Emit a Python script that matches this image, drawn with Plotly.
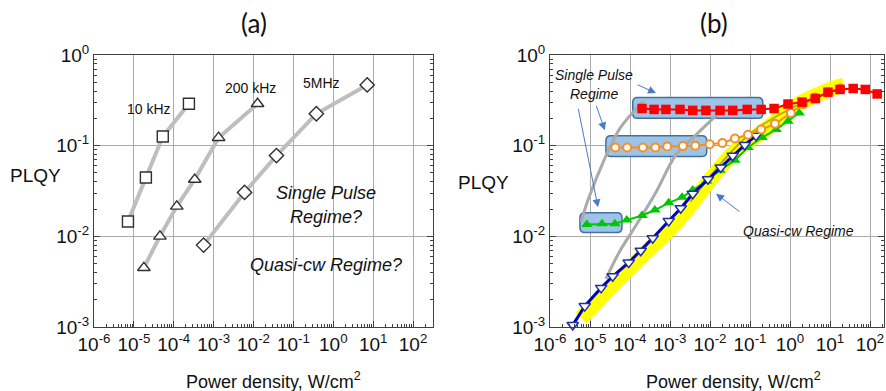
import math
import plotly.graph_objects as go

# ---------------- Panel (a) data ----------------
a10k_x = [7.1e-6, 2.0e-5, 5.3e-5, 2.4e-4]
a10k_y = [0.0146, 0.0446, 0.126, 0.29]
a200k_x = [1.78e-5, 4.5e-5, 1.19e-4, 3.35e-4, 1.33e-3, 1.26e-2]
a200k_y = [0.0045, 0.0100, 0.0214, 0.0423, 0.1225, 0.29]
a5M_x = [5.6e-4, 5.96e-3, 3.76e-2, 0.376, 7.08]
a5M_y = [0.0080, 0.0305, 0.0777, 0.225, 0.468]

# ---------------- Panel (b) data ----------------
red_x = [2.0e-4, 4.0e-4, 7.9e-4, 1.78e-3, 3.7e-3, 7.9e-3, 1.78e-2, 3.7e-2, 8.5e-2, 0.19,
         0.40, 0.89, 2.0, 4.3, 8.9, 17.8, 38, 76, 151]
red_y = [0.257, 0.251, 0.251, 0.251, 0.245, 0.245, 0.245, 0.245, 0.251, 0.251,
         0.257, 0.288, 0.302, 0.331, 0.389, 0.417, 0.427, 0.417, 0.372]
orange_x = [4.3e-5, 8.5e-5, 2.1e-4, 4.3e-4, 8.5e-4, 2.1e-3, 4.3e-3, 9.8e-3, 2.04e-2,
            4.2e-2, 8.9e-2, 0.19, 0.42, 1.05, 2.1, 4.2, 8.9, 18.2]
orange_y = [0.0955, 0.0955, 0.0955, 0.0955, 0.0977, 0.0989, 0.100, 0.1035, 0.107,
            0.120, 0.132, 0.151, 0.174, 0.229, 0.288, 0.339, 0.389, 0.427]
green_x = [8.3e-6, 2.0e-5, 4.2e-5, 8.3e-5, 2.0e-4, 4.2e-4, 9.3e-4, 2.0e-3, 3.7e-3,
           8.3e-3, 1.78e-2, 4.2e-2, 8.9e-2, 0.20, 0.45, 0.89, 1.7]
green_y = [0.0135, 0.0138, 0.0138, 0.0151, 0.0170, 0.0195, 0.0234, 0.0269, 0.0324,
           0.0407, 0.0537, 0.0692, 0.0955, 0.123, 0.151, 0.186, 0.229]
blue_x = [3.7e-6, 7.4e-6, 1.9e-5, 3.7e-5, 9.3e-5, 1.86e-4, 3.7e-4, 9.3e-4, 1.86e-3,
          3.7e-3, 8.9e-3, 1.86e-2, 3.7e-2, 7.4e-2, 0.141]
blue_y = [0.00105, 0.0017, 0.0027, 0.00363, 0.00513, 0.00692, 0.00955, 0.0148, 0.0204,
          0.0295, 0.0427, 0.0575, 0.0776, 0.102, 0.129]
band_x = [6.0e-6, 5.6e-5, 3.7e-4, 1.78e-3, 1.12e-2, 4.7e-2, 0.2, 1.5, 10, 22.4]
band_y = [1.26e-3, 3.47e-3, 7.9e-3, 0.0158, 0.0447, 0.0912, 0.141, 0.282, 0.417, 0.468]
gray1_x = [6.0e-6, 8.9e-6, 2.14e-5, 5.6e-5, 2.14e-4]
gray1_y = [0.0145, 0.0251, 0.066, 0.155, 0.309]
gray2_x = [2.5e-5, 5.6e-5, 1.32e-4, 4.5e-4, 1.41e-3, 4.5e-3, 1.86e-2]
gray2_y = [0.0034, 0.0069, 0.0126, 0.0309, 0.0794, 0.132, 0.24]
gray3_x = [3.2e-3, 0.1, 4.3]
gray3_y = [0.024, 0.135, 0.347]

# highlighted boxes (x0, x1, y0, y1)
boxes = [(1.17e-4, 0.209, 0.20, 0.339),
         (2.5e-5, 8.3e-3, 0.0759, 0.129),
         (5.6e-6, 6.3e-5, 0.011, 0.0182)]

# ticks
xt_vals = [1e-6, 1e-5, 1e-4, 1e-3, 1e-2, 1e-1, 1e0, 1e1, 1e2]
xt_text = ["10<sup>-6</sup>", "10<sup>-5</sup>", "10<sup>-4</sup>", "10<sup>-3</sup>",
           "10<sup>-2</sup>", "10<sup>-1</sup>", "10<sup>0</sup>", "10<sup>1</sup>",
           "10<sup>2</sup>"]
yt_vals = [1e-3, 1e-2, 1e-1, 1e0]
yt_text = ["10<sup>-3</sup>", "10<sup>-2</sup>", "10<sup>-1</sup>", "10<sup>0</sup>"]
x_minor = [m * 10.0 ** e for e in range(-6, 3) for m in range(2, 10)]
y_minor = [m * 10.0 ** e for e in range(-3, 0) for m in range(2, 10)]

FONT = "Liberation Sans"
fig = go.Figure()

def gray_curve(x, y, sym, xa, ya):
    fig.add_trace(go.Scatter(x=x, y=y, xaxis=xa, yaxis=ya, mode="lines+markers",
                             line=dict(color="#BEBEBE", width=4),
                             marker=dict(symbol=sym, size=11, color="white",
                                         line=dict(color="#303030", width=1.4)),
                             cliponaxis=False, showlegend=False))

gray_curve(a10k_x, a10k_y, "square", "x", "y")
gray_curve(a200k_x, a200k_y, "triangle-up", "x", "y")
gray_curve(a5M_x, a5M_y, "diamond", "x", "y")

# panel (b)
fig.add_trace(go.Scatter(x=band_x, y=band_y, xaxis="x2", yaxis="y2", mode="lines",
                         line=dict(color="#FFFF00", width=15, shape="spline"), showlegend=False))
fig.add_trace(go.Scatter(x=gray3_x, y=gray3_y, xaxis="x2", yaxis="y2", mode="lines",
                         line=dict(color="rgba(120,110,60,0.55)", width=2, shape="spline"),
                         showlegend=False))
for gx, gy in [(gray1_x, gray1_y), (gray2_x, gray2_y)]:
    fig.add_trace(go.Scatter(x=gx, y=gy, xaxis="x2", yaxis="y2", mode="lines",
                             line=dict(color="#AAAAAA", width=3, shape="spline"),
                             showlegend=False))
fig.add_trace(go.Scatter(x=green_x, y=green_y, xaxis="x2", yaxis="y2", mode="lines+markers",
                         line=dict(color="#00C800", width=2),
                         marker=dict(symbol="triangle-up", size=10, color="#00C800"),
                         showlegend=False))
fig.add_trace(go.Scatter(x=blue_x, y=blue_y, xaxis="x2", yaxis="y2", mode="lines+markers",
                         line=dict(color="#0000C8", width=3),
                         marker=dict(symbol="triangle-down", size=10, color="white",
                                     line=dict(color="#2030A0", width=1.5)),
                         cliponaxis=False, showlegend=False))
fig.add_trace(go.Scatter(x=orange_x, y=orange_y, xaxis="x2", yaxis="y2", mode="lines+markers",
                         line=dict(color="#F39026", width=2),
                         marker=dict(symbol="circle", size=8, color="white",
                                     line=dict(color="#F39026", width=2)),
                         showlegend=False))
fig.add_trace(go.Scatter(x=red_x, y=red_y, xaxis="x2", yaxis="y2", mode="lines+markers",
                         line=dict(color="#FF0000", width=2),
                         marker=dict(symbol="square", size=9.5, color="#FF0000"),
                         cliponaxis=False, showlegend=False))

def rounded_box(x0, x1, y0, y1, rx=0.12, ry=0.055):
    # rounded rectangle path in data units (log axes), corner radius given in decades
    lx0, lx1, ly0, ly1 = map(math.log10, (x0, x1, y0, y1))
    f = lambda v: "{:.12f}".format(10 ** v)
    P = lambda lx, ly: f"{f(lx)},{f(ly)}"
    return (f"M{P(lx0 + rx, ly0)} L{P(lx1 - rx, ly0)} Q{P(lx1, ly0)} {P(lx1, ly0 + ry)} "
            f"L{P(lx1, ly1 - ry)} Q{P(lx1, ly1)} {P(lx1 - rx, ly1)} "
            f"L{P(lx0 + rx, ly1)} Q{P(lx0, ly1)} {P(lx0, ly1 - ry)} "
            f"L{P(lx0, ly0 + ry)} Q{P(lx0, ly0)} {P(lx0 + rx, ly0)} Z")

shapes = []
for (x0, x1, y0, y1) in boxes:
    shapes.append(dict(type="path", xref="x2", yref="y2", path=rounded_box(x0, x1, y0, y1),
                       fillcolor="#9DC3E6", line=dict(color="#41719C", width=1.5),
                       layer="between"))

def xaxis(domain, rng, anchor):
    return dict(type="log", domain=domain, range=rng, anchor=anchor, automargin=False,
                showline=True, linecolor="#404040", linewidth=1, mirror=True,
                ticks="inside", ticklen=6, tickcolor="#404040",
                tickmode="array", tickvals=xt_vals, ticktext=xt_text,
                tickfont=dict(family=FONT, size=19, color="#111111"),
                showgrid=True, gridcolor="#ABABAB", gridwidth=1, zeroline=False,
                minor=dict(ticks="inside", ticklen=3, tickcolor="#404040",
                           tickmode="array", tickvals=x_minor, showgrid=False))

def yaxis(domain, anchor):
    return dict(type="log", domain=domain, range=[-3, 0], anchor=anchor, automargin=False,
                showline=True, linecolor="#404040", linewidth=1, mirror="ticks",
                ticks="inside", ticklen=6, tickcolor="#404040",
                tickmode="array", tickvals=yt_vals, ticktext=yt_text,
                tickfont=dict(family=FONT, size=19, color="#111111"),
                showgrid=True, gridcolor="#ABABAB", gridwidth=1, zeroline=False,
                minor=dict(ticks="inside", ticklen=3, tickcolor="#404040",
                           tickmode="array", tickvals=y_minor, showgrid=False))

ydom = [1 - 327 / 391, 1 - 55 / 391]

txt = dict(family=FONT, color="#111111")
def paper_text(text, px, py, size, family=FONT):
    return dict(text=text, x=px / 886, y=1 - py / 391, xref="paper", yref="paper",
                xanchor="center", yanchor="middle", showarrow=False,
                font=dict(family=family, size=size, color="#111111"))

annotations = [
    paper_text("(a)", 254, 23, 26, "Lato"),
    paper_text("(b)", 714, 23, 26, "Lato"),
    paper_text("PLQY", 35, 175, 19),
    paper_text("PLQY", 483, 182, 19),
    paper_text("Power density, W/cm<sup>2</sup>", 273, 380, 18),
    paper_text("Power density, W/cm<sup>2</sup>", 733, 380, 18),
]

def data_text(text, x, y, size, xa="x", ya="y"):
    return dict(text=text, x=x, y=y, xref=xa, yref=ya, xanchor="center", yanchor="middle",
                showarrow=False, font=dict(size=size, **txt))

annotations += [
    data_text("10 kHz", -4.63, -0.6, 14),
    data_text("200 kHz", -2.08, -0.36, 14),
    data_text("5MHz", -0.3, -0.31, 14),
    data_text("<i>Single Pulse</i>", -0.18, -1.52, 18),
    data_text("<i>Regime?</i>", -0.18, -1.79, 18),
    data_text("<i>Quasi-cw Regime?</i>", -0.18, -2.32, 18),
    data_text("<i>Single Pulse</i>", -4.9, -0.22, 14, "x2", "y2"),
    data_text("<i>Regime</i>", -4.9, -0.43, 14, "x2", "y2"),
    data_text("<i>Quasi-cw Regime</i>", 0.2, -1.94, 14, "x2", "y2"),
]
arrow_style = dict(showarrow=True, arrowhead=2, arrowsize=1.6, arrowwidth=1, arrowcolor="#4A7BC8",
                   xref="x2", yref="y2", axref="pixel", ayref="pixel", text="")
for (xx, yy, ax, ay) in [(-3.35, -0.42, -20, -9), (-4.63, -0.83, -9, -26),
                         (-4.8, -1.68, -20, -100), (-1.85, -1.53, 25, 19)]:
    annotations.append(dict(x=xx, y=yy, ax=ax, ay=ay, **arrow_style))

fig.update_layout(
    width=886, height=391,
    margin=dict(l=0, r=0, t=0, b=0, pad=0, autoexpand=False),
    paper_bgcolor="white", plot_bgcolor="white", showlegend=False,
    xaxis=xaxis([94 / 886, 433 / 886], [-6, 2.5], "y"),
    yaxis=yaxis(ydom, "x"),
    xaxis2=xaxis([550 / 886, 884 / 886], [-6, 2.35], "y2"),
    yaxis2=yaxis(ydom, "x2"),
    shapes=shapes, annotations=annotations,
)

fig.write_html("out.html")
